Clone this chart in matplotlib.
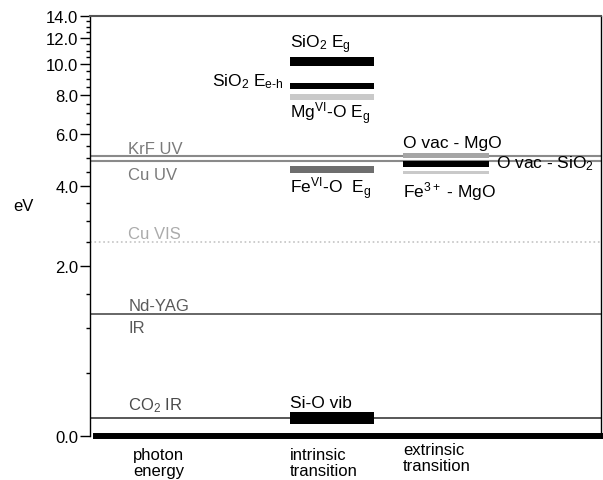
import numpy as np
import matplotlib
matplotlib.use('Agg')
import matplotlib.pyplot as plt
from matplotlib.ticker import MultipleLocator, FormatStrFormatter

plt.rcParams['font.family'] = ['Liberation Sans', 'DejaVu Sans']
plt.rcParams['mathtext.fontset'] = 'custom'
plt.rcParams['mathtext.rm'] = 'Liberation Sans'
plt.rcParams['mathtext.it'] = 'Liberation Sans'
plt.rcParams['mathtext.bf'] = 'Liberation Sans:bold'

# Photon sources (eV)
laser_ev = [5.1, 4.9, 2.5, 1.2, 0.12]
laser_above = ['KrF UV', '', 'Cu VIS', 'Nd-YAG', r'CO$_2$ IR']
laser_below = ['', 'Cu UV', '', 'IR', '']

# Intrinsic transitions (eV ranges)
intr_names = [r'SiO$_2$ E$_\mathrm{g}$', r'SiO$_2$ E$_\mathrm{e\text{-}h}$',
              r'Mg$^\mathrm{VI}$-O E$_\mathrm{g}$', r'Fe$^\mathrm{VI}$-O  E$_\mathrm{g}$',
              'Si-O vib']
intr_lo = [9.9, 8.35, 7.7, 4.45, 0.08]
intr_hi = [10.5, 8.75, 8.1, 4.7, 0.165]

# Extrinsic transitions (eV ranges)
extr_names = ['O vac - MgO', r'O vac - SiO$_2$', r'Fe$^{3+}$ - MgO']
extr_lo = [5.0, 4.65, 4.4]
extr_hi = [5.2, 4.9, 4.53]

categories = ['photon\nenergy', 'intrinsic\ntransition', 'extrinsic\ntransition']
yticks = [0, 2, 4, 6, 8, 10, 12, 14]

# Styles
laser_colors = ['#8a8a8a', '#8a8a8a', '#c4c4c4', '#5a5a5a', '#4a4a4a']
laser_text = ['#7a7a7a', '#7a7a7a', '#ababab', '#5a5a5a', '#4a4a4a']
laser_ls = ['-', '-', ':', '-', '-']
laser_lw = [1.5, 1.5, 1.2, 1.3, 1.3]
laser_dy_above = [3, 0, 4, 4, 9]
laser_dy_below = [0, -18, 0, -18, 0]

intr_x = (0.391, 0.556)
extr_x = (0.613, 0.780)
intr_colors = ['black', 'black', '#c9c9c9', '#6e6e6e', 'black']
extr_colors = ['#a5a5a5', 'black', '#c9c9c9']
# (anchor: 'hi'/'lo'/'mid', side: 'left'/'right', dx, dy, ha) in pixels
intr_lab = [('hi', 'left', 0, 10, 'left'), ('mid', 'left', -6, 1, 'right'),
            ('lo', 'left', 0, -17, 'left'), ('lo', 'left', 0, -20, 'left'),
            ('hi', 'left', 0, 5, 'left')]
extr_lab = [('hi', 'left', 0, 6, 'left'), ('mid', 'right', 7, -3, 'left'),
            ('lo', 'left', 0, -22, 'left')]
cat_x = [0.084, 0.391, 0.613]
cat_y = [-0.026, -0.026, -0.014]

fig = plt.figure(figsize=(6.03, 4.81), dpi=100)
ax = fig.add_axes([90/603, 44/481, 511/603, 420/481])
ax.set_yscale('function', functions=(np.log1p, np.expm1))
ax.set_ylim(0, 14)
ax.set_xlim(0, 1)

for e, a, b, c, tc, ls, lw, da, db in zip(laser_ev, laser_above, laser_below, laser_colors,
                                          laser_text, laser_ls, laser_lw,
                                          laser_dy_above, laser_dy_below):
    ax.axhline(e, color=c, ls=ls, lw=lw)
    if a:
        ax.annotate(a, (0.075, e), xytext=(0, da), textcoords='offset pixels',
                    color=tc, fontsize=12, va='baseline', ha='left')
    if b:
        ax.annotate(b, (0.075, e), xytext=(0, db), textcoords='offset pixels',
                    color=tc, fontsize=12, va='baseline', ha='left')


def draw_group(names, lo, hi, xs, colors, labs):
    for n, l, h, c, (anc, side, dx, dy, ha) in zip(names, lo, hi, colors, labs):
        ax.barh(l, xs[1] - xs[0], height=h - l, left=xs[0], align='edge',
                color=c, edgecolor='none', zorder=3)
        ey = {'hi': h, 'lo': l, 'mid': np.expm1((np.log1p(l) + np.log1p(h)) / 2)}[anc]
        ex = xs[0] if side == 'left' else xs[1]
        ax.annotate(n, (ex, ey), xytext=(dx, dy), textcoords='offset pixels',
                    color='black', fontsize=12.5, va='baseline', ha=ha)


draw_group(intr_names, intr_lo, intr_hi, intr_x, intr_colors, intr_lab)
draw_group(extr_names, extr_lo, extr_hi, extr_x, extr_colors, extr_lab)

# thick base bar
ax.axhline(0, xmin=0.012, xmax=1.0, color='black', lw=4.3, clip_on=False, zorder=4)

for cx, cy, t in zip(cat_x, cat_y, categories):
    ax.text(cx, cy, t, transform=ax.transAxes, fontsize=12, va='top', ha='left',
            linespacing=1.12)

ax.yaxis.set_major_locator(plt.FixedLocator(yticks))
ax.yaxis.set_minor_locator(MultipleLocator(0.5))
ax.yaxis.set_major_formatter(FormatStrFormatter('%.1f'))
ax.tick_params(axis='y', which='major', length=7, width=1, pad=1.5, labelsize=12)
ax.tick_params(axis='y', which='minor', length=3, width=1)
ax.set_xticks([])
ax.spines['bottom'].set_visible(False)
ax.spines['top'].set_color('#555555')
ax.spines['top'].set_linewidth(1.5)
ax.spines['left'].set_linewidth(1)
ax.spines['right'].set_linewidth(1)

ax.set_ylabel('eV', rotation=0, fontsize=12)
ax.yaxis.set_label_coords(-0.131, 0.531)

fig.savefig('out.png', dpi=100)
